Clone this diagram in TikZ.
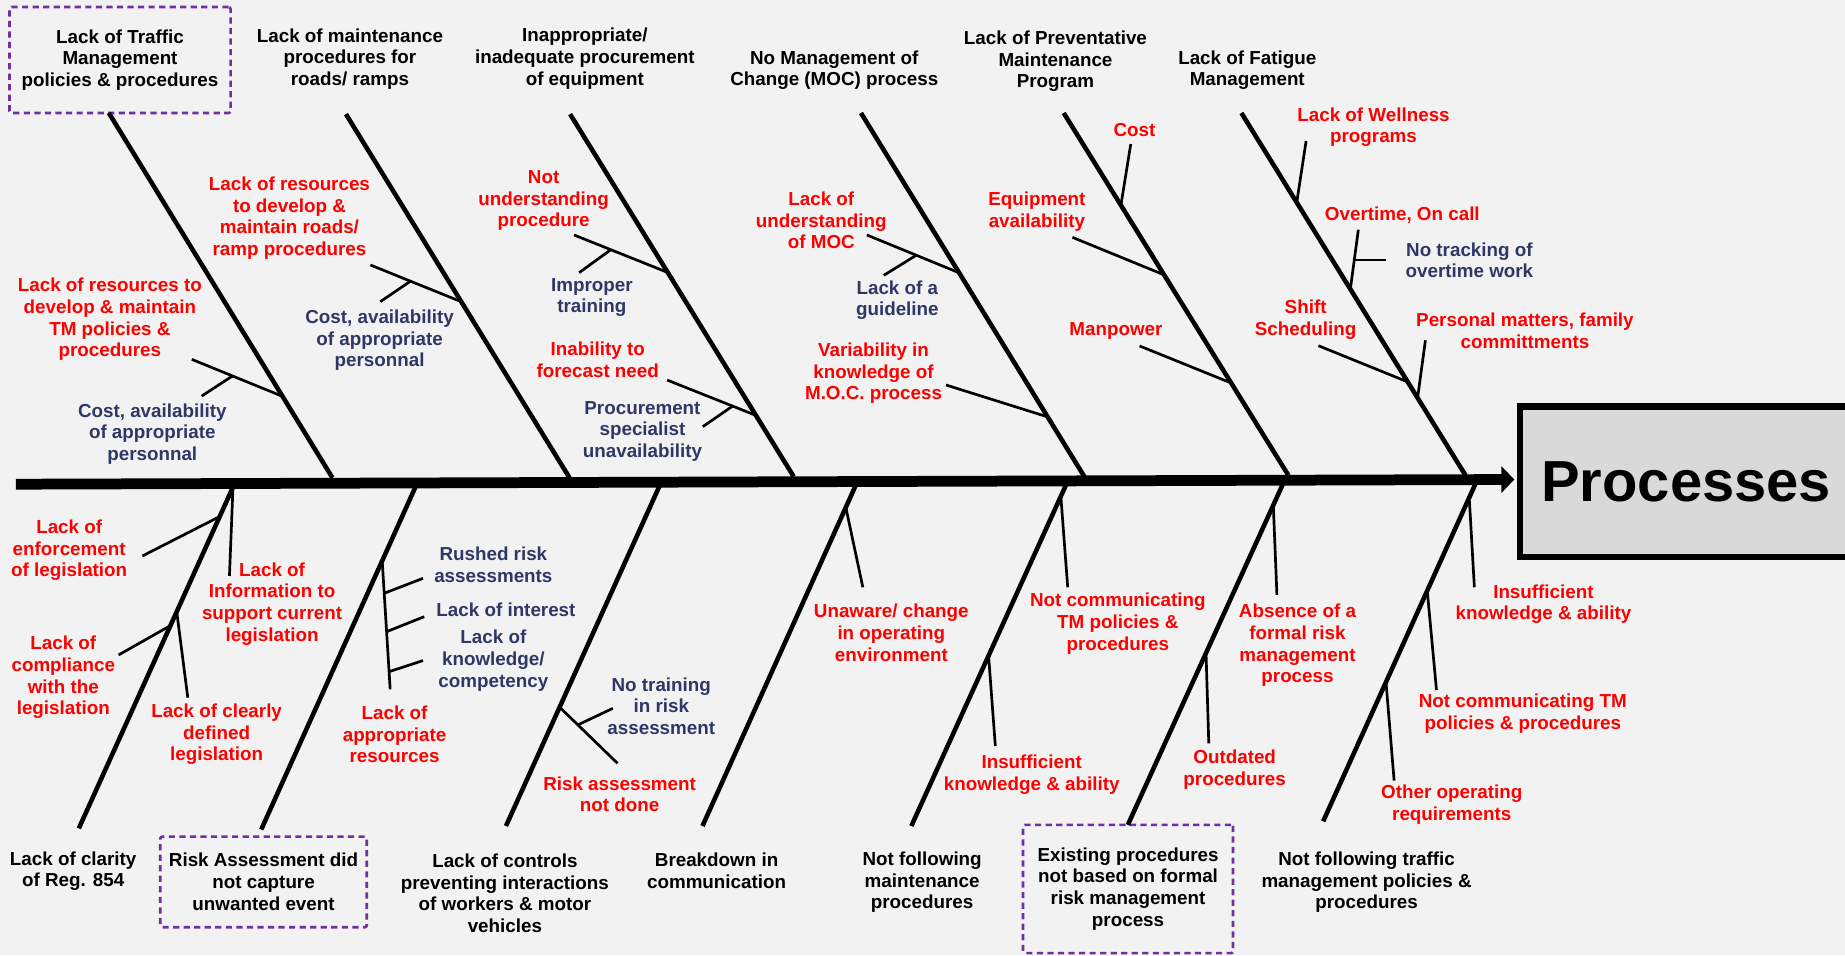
\documentclass[tikz,border=0pt]{standalone}
\usepackage{fontspec}
\setmainfont{Liberation Sans}
\usepackage{xcolor}
\usetikzlibrary{arrows.meta}
\definecolor{causered}{HTML}{FF0000}
\definecolor{causeblue}{HTML}{2E3766}
\definecolor{boxpurple}{HTML}{7030A0}
\definecolor{paper}{HTML}{F2F2F2}
\definecolor{headgrey}{HTML}{D9D9D9}

\begin{document}
\begin{tikzpicture}[x=0.02cm, y=-0.02cm,
    txt/.style={font=\bfseries\fontsize{9.1}{10.5}\selectfont, align=center, inner sep=0pt},
    main/.style={txt, text=black},
    cause/.style={txt, text=causered},
    subcause/.style={txt, text=causeblue},
    dotbox/.style={draw=boxpurple, line width=1.3pt, dash pattern=on 3pt off 2.1pt, rounded corners=1pt},
    bone/.style={line width=2.2pt},
    twig/.style={line width=1.3pt},
    spine/.style={line width=5.2pt, -{Triangle[length=0.22cm, width=0.44cm]}}]
    \useasboundingbox (0,0) rectangle (1568,812);
    \fill[paper] (0,0) rectangle (1568,812);

    % Head
    \node[draw, line width=3pt, fill=headgrey, minimum width=5.66cm, minimum height=2.56cm,
          font=\bfseries\fontsize{28}{30}\selectfont] (processes) at (1433,409.5) {Processes};

    % Main causes (top)
    \node[main, dotbox, minimum width=3.76cm, minimum height=1.8cm] (traffic) at (102,51) {Lack of Traffic\\Management\\policies \& procedures};
    \node[main] (roads) at (297.4,50.2) {Lack of maintenance\\procedures for\\roads/ ramps};
    \node[main] (procure) at (497,50) {Inappropriate/\\inadequate procurement\\of equipment};
    \node[main] (moc) at (709,59.6) {No Management of\\Change (MOC) process};
    \node[main] (prevent) at (897,52.2) {Lack of Preventative\\Maintenance\\Program};
    \node[main] (fatigue) at (1060,59.6) {Lack of Fatigue\\Management};

    % Main causes (bottom)
    \node[main] (clarity) at (62.2,740.4) {Lack of clarity\\of Reg. 854};
    \node[main, dotbox, minimum width=3.51cm, minimum height=1.54cm] (riskass) at (224,749.5) {Risk Assessment did\\not capture\\unwanted event};
    \node[main] (controls) at (429.1,759.2) {Lack of controls\\preventing interactions\\of workers \& motor\\vehicles};
    \node[main] (breakdown) at (609,740.1) {Breakdown in\\communication};
    \node[main] (notmaint) at (783.7,749.7) {Not following\\maintenance\\procedures};
    \node[main, dotbox, minimum width=3.57cm, minimum height=2.18cm] (existing) at (958.7,755.5) {Existing procedures\\not based on formal\\risk management\\process};
    \node[main] (nottraffic) at (1161.4,749.7) {Not following traffic\\management policies \&\\procedures};

    % Causes (top)
    \node[cause] (resTM) at (93.4,271.5) {Lack of resources to\\develop \& maintain\\TM policies \&\\procedures};
    \node[subcause] (costTM) at (129.4,368.7) {Cost, availability\\of appropriate\\personnal};
    \node[cause] (resRoads) at (246,185.5) {Lack of resources\\to develop \&\\maintain roads/\\ramp procedures};
    \node[subcause] (costRoads) at (322.6,289.2) {Cost, availability\\of appropriate\\personnal};
    \node[cause] (notunder) at (462,170.4) {Not\\understanding\\procedure};
    \node[subcause] (improper) at (503,252.8) {Improper\\training};
    \node[cause] (forecast) at (508,306) {Inability to\\forecast need};
    \node[subcause] (specialist) at (546,366.5) {Procurement\\specialist\\unavailability};
    \node[cause] (undermoc) at (698,187.4) {Lack of\\understanding\\of MOC};
    \node[subcause] (guideline) at (762.6,255.2) {Lack of a\\guideline};
    \node[cause] (variab) at (742.4,317.3) {Variability in\\knowledge of\\M.O.C. process};
    \node[cause] (cost) at (964.2,110.5) {Cost};
    \node[cause] (equip) at (881.2,180) {Equipment\\availability};
    \node[cause] (manpower) at (948.4,281.3) {Manpower};
    \node[cause] (wellness) at (1167.3,108) {Lack of Wellness\\programs};
    \node[cause] (overtime) at (1191.8,182.7) {Overtime, On call};
    \node[subcause] (tracking) at (1248.8,221.2) {No tracking of\\overtime work};
    \node[cause] (shift) at (1109.6,271.6) {Shift\\Scheduling};
    \node[cause] (personal) at (1296,281.3) {Personal matters, family\\committments};

    % Causes (bottom)
    \node[cause] (enforce) at (58.8,467.7) {Lack of\\enforcement\\of legislation};
    \node[cause] (info) at (231.2,513.1) {Lack of\\Information to\\support current\\legislation};
    \node[cause] (comply) at (53.8,575.8) {Lack of\\compliance\\with the\\legislation};
    \node[cause] (clearly) at (184.1,624.1) {Lack of clearly\\defined\\legislation};
    \node[subcause] (rushed) at (419.3,479.7) {Rushed risk\\assessments};
    \node[subcause] (interest) at (430,518.4) {Lack of interest};
    \node[subcause] (compet) at (419.3,561.4) {Lack of\\knowledge/\\competency};
    \node[cause] (resources) at (335.3,624.2) {Lack of\\appropriate\\resources};
    \node[subcause] (notrain) at (562,600.2) {No training\\in risk\\assessment};
    \node[cause] (notdone) at (526.6,674.9) {Risk assessment\\not done};
    \node[cause] (unaware) at (757.5,537.6) {Unaware/ change\\in operating\\environment};
    \node[cause] (notcomm) at (950,530.1) {Not communicating\\TM policies \&\\procedures};
    \node[cause] (insuff) at (876.8,658.2) {Insufficient\\knowledge \& ability};
    \node[cause] (absence) at (1102.7,548.4) {Absence of a\\formal risk\\management\\process};
    \node[cause] (outdated) at (1049.3,653.9) {Outdated\\procedures};
    \node[cause] (insuffTM) at (1311.7,513.4) {Insufficient\\knowledge \& ability};
    \node[cause] (notcommTM) at (1294.2,606.2) {Not communicating TM\\policies \& procedures};
    \node[cause] (otherreq) at (1233.8,683.7) {Other operating\\requirements};

    % Bone ends
    \coordinate (tail) at (13.5,411.5);
    \coordinate (head) at (1287,407.5);
    \coordinate (b1t) at (92.5,96);   \coordinate (b1s) at (282.5,406);
    \coordinate (b2t) at (294,97);    \coordinate (b2s) at (484,406);
    \coordinate (b3t) at (484.5,97);  \coordinate (b3s) at (674.5,405);
    \coordinate (b4t) at (731.7,96);  \coordinate (b4s) at (921.5,405);
    \coordinate (b5t) at (904,96);    \coordinate (b5s) at (1095,404);
    \coordinate (b6t) at (1055,96);   \coordinate (b6s) at (1245.5,404);
    \coordinate (l1s) at (198,414);   \coordinate (l1b) at (67,704);
    \coordinate (l2s) at (353,414);   \coordinate (l2b) at (222,705);
    \coordinate (l3s) at (560.5,413); \coordinate (l3b) at (430,702);
    \coordinate (l4s) at (727,413);   \coordinate (l4b) at (597,702);
    \coordinate (l5s) at (906,412);   \coordinate (l5b) at (774.5,702);
    \coordinate (l6s) at (1090,412);  \coordinate (l6b) at (958.5,701);
    \coordinate (l7s) at (1254,411);  \coordinate (l7b) at (1124.5,698);

    % Twig ends (top)
    \coordinate (t1o) at (163,305.4);    \coordinate (t1i) at (239.5,336.6);
    \coordinate (k1o) at (171.4,336.6);  \coordinate (k1i) at (197.6,319.5);
    \coordinate (t2o) at (314.8,225.2);  \coordinate (t2i) at (392,256.4);
    \coordinate (k2o) at (323.2,256.4);  \coordinate (k2i) at (348.8,239);
    \coordinate (t3o) at (487.9,199.7);  \coordinate (t3i) at (566.8,231.3);
    \coordinate (k3o) at (492.2,231.7);  \coordinate (k3i) at (519,212.3);
    \coordinate (t4o) at (567,323);      \coordinate (t4i) at (641.7,352.7);
    \coordinate (k4o) at (597.3,362.6);  \coordinate (k4i) at (622.5,345.2);
    \coordinate (t5o) at (736.7,199.7);  \coordinate (t5i) at (814.8,231.7);
    \coordinate (k5o) at (751.1,234);    \coordinate (k5i) at (778.7,216.9);
    \coordinate (t6o) at (804,327.2);    \coordinate (t6i) at (889.7,354.1);
    \coordinate (t7o) at (961,122.4);    \coordinate (t7i) at (952.5,175);
    \coordinate (t8o) at (911.4,201.7);  \coordinate (t8i) at (987.9,233);
    \coordinate (t9o) at (968.5,294);    \coordinate (t9i) at (1044.6,324.8);
    \coordinate (t10o) at (1110,119.9);  \coordinate (t10i) at (1102,172.4);
    \coordinate (t11o) at (1154.4,195.2); \coordinate (t11i) at (1147.5,246.5);
    \coordinate (k11o) at (1177.8,221);  \coordinate (k11i) at (1150.7,221);
    \coordinate (t12o) at (1120.5,293.8); \coordinate (t12i) at (1195.2,324.1);
    \coordinate (t13o) at (1211.4,289.2); \coordinate (t13i) at (1204.6,339.3);

    % Twig ends (bottom)
    \coordinate (u1o) at (195,489.5);
    \coordinate (u2o) at (121,472.5);    \coordinate (u2i) at (186.7,439);
    \coordinate (u3o) at (100.8,556.6);  \coordinate (u3i) at (144.8,531.7);
    \coordinate (u4i) at (150.2,519.8);  \coordinate (u4o) at (159.6,592.9);
    \coordinate (u5i) at (324.8,476.5);  \coordinate (u5o) at (331.6,585.8);
    \coordinate (m1i) at (326.5,504.2);  \coordinate (m1o) at (359.5,491.5);
    \coordinate (m2i) at (328.6,536.8);  \coordinate (m2o) at (360.5,524.1);
    \coordinate (m3i) at (330.7,570.8);  \coordinate (m3o) at (359.5,561.4);
    \coordinate (u6i) at (475.7,601.1);  \coordinate (u6o) at (524.8,648.7);
    \coordinate (m4i) at (491.2,616);    \coordinate (m4o) at (520.8,602);
    \coordinate (u7i) at (719,432);      \coordinate (u7o) at (733.3,499.1);
    \coordinate (u8i) at (901.7,423.5);  \coordinate (u8o) at (907.4,499.1);
    \coordinate (u9i) at (840.2,558);    \coordinate (u9o) at (845.9,634);
    \coordinate (u10i) at (1082.2,431);  \coordinate (u10o) at (1085.2,505.6);
    \coordinate (u11i) at (1025,556.6);  \coordinate (u11o) at (1027.3,631.7);
    \coordinate (u12i) at (1248.8,425.5); \coordinate (u12o) at (1253,499.1);
    \coordinate (u13i) at (1213.1,503.7); \coordinate (u13o) at (1220.8,586.4);
    \coordinate (u14i) at (1178,580.7);  \coordinate (u14o) at (1184.8,663.4);

    % Spine and bones
    \draw[spine] (tail) -- (head);
    \draw[bone] (b1t) -- (b1s);
    \draw[bone] (b2t) -- (b2s);
    \draw[bone] (b3t) -- (b3s);
    \draw[bone] (b4t) -- (b4s);
    \draw[bone] (b5t) -- (b5s);
    \draw[bone] (b6t) -- (b6s);
    \draw[bone] (l1s) -- (l1b);
    \draw[bone] (l2s) -- (l2b);
    \draw[bone] (l3s) -- (l3b);
    \draw[bone] (l4s) -- (l4b);
    \draw[bone] (l5s) -- (l5b);
    \draw[bone] (l6s) -- (l6b);
    \draw[bone] (l7s) -- (l7b);

    % Twigs (top)
    \draw[twig] (t1o) -- (t1i);  \draw[twig] (k1o) -- (k1i);
    \draw[twig] (t2o) -- (t2i);  \draw[twig] (k2o) -- (k2i);
    \draw[twig] (t3o) -- (t3i);  \draw[twig] (k3o) -- (k3i);
    \draw[twig] (t4o) -- (t4i);  \draw[twig] (k4o) -- (k4i);
    \draw[twig] (t5o) -- (t5i);  \draw[twig] (k5o) -- (k5i);
    \draw[twig] (t6o) -- (t6i);
    \draw[twig] (t7o) -- (t7i);
    \draw[twig] (t8o) -- (t8i);
    \draw[twig] (t9o) -- (t9i);
    \draw[twig] (t10o) -- (t10i);
    \draw[twig] (t11o) -- (t11i); \draw[twig] (k11o) -- (k11i);
    \draw[twig] (t12o) -- (t12i);
    \draw[twig] (t13o) -- (t13i);

    % Twigs (bottom)
    \draw[twig] (l1s) -- (u1o);
    \draw[twig] (u2o) -- (u2i);
    \draw[twig] (u3o) -- (u3i);
    \draw[twig] (u4i) -- (u4o);
    \draw[twig] (u5i) -- (u5o);
    \draw[twig] (m1i) -- (m1o);
    \draw[twig] (m2i) -- (m2o);
    \draw[twig] (m3i) -- (m3o);
    \draw[twig] (u6i) -- (u6o);  \draw[twig] (m4i) -- (m4o);
    \draw[twig] (u7i) -- (u7o);
    \draw[twig] (u8i) -- (u8o);
    \draw[twig] (u9i) -- (u9o);
    \draw[twig] (u10i) -- (u10o);
    \draw[twig] (u11i) -- (u11o);
    \draw[twig] (u12i) -- (u12o);
    \draw[twig] (u13i) -- (u13o);
    \draw[twig] (u14i) -- (u14o);
\end{tikzpicture}
\end{document}
